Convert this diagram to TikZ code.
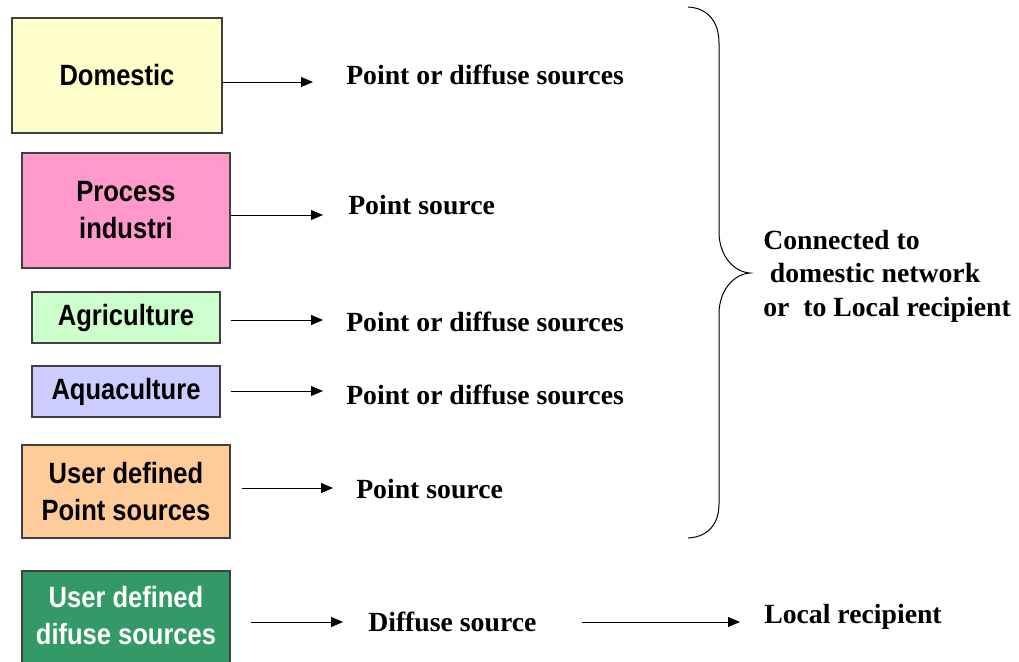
\documentclass[tikz,border=0pt]{standalone}
\usepackage{fontspec}
\setmainfont{Liberation Serif}
\newfontfamily\boxfont[FakeStretch=0.87]{Liberation Sans Bold}
\usetikzlibrary{arrows.meta}
\definecolor{cdom}{HTML}{FFFFCC}
\definecolor{cproc}{HTML}{FF99CC}
\definecolor{cagr}{HTML}{CCFFCC}
\definecolor{caqua}{HTML}{CCCCFF}
\definecolor{cudp}{HTML}{FFCC99}
\definecolor{cudd}{HTML}{339966}
\definecolor{boxline}{HTML}{404040}
\begin{document}
\begin{tikzpicture}[x=0.75pt,y=-0.75pt,
  srcbox/.style={draw=boxline, line width=0.9pt, inner sep=0pt, align=center,
    font=\boxfont\fontsize{22}{27.75}\selectfont},
  lbl/.style={anchor=base west, inner sep=0pt, font=\bfseries\fontsize{20.8}{24}\selectfont},
  arr/.style={line width=0.75pt, -{Triangle[length=9pt,width=7.5pt]}}]
\clip (0,0) rectangle (1019,661);
\fill[white] (0,0) rectangle (1019,661);

% source boxes
\node[srcbox, fill=cdom, minimum width=157.5pt, minimum height=86.25pt] (dom) at (117,75.5) {Domestic};
\node[srcbox, fill=cproc, minimum width=156pt, minimum height=86.25pt] (proc) at (126,210.5) {Process\\industri};
\node[srcbox, fill=cagr, minimum width=141pt, minimum height=38.25pt] (agr) at (126,317.5) {Agriculture};
\node[srcbox, fill=caqua, minimum width=141pt, minimum height=38.25pt] (aqua) at (126,391.5) {Aquaculture};
\node[srcbox, fill=cudp, minimum width=156pt, minimum height=69.75pt] (udp) at (126,491.5) {User defined\\Point sources};
\node[srcbox, fill=cudd, minimum width=156pt, minimum height=82.5pt] (udd) at (126,626) {};
\node[inner sep=0pt, align=center, text=white, font=\boxfont\fontsize{22}{27.75}\selectfont] (uddt) at (126,616) {User defined\\difuse sources};

% labels
\node[lbl] (l1) at (346,84) {Point or diffuse sources};
\node[lbl] (l2) at (348,214) {Point source};
\node[lbl] (l3) at (346,331) {Point or diffuse sources};
\node[lbl] (l4) at (346,404) {Point or diffuse sources};
\node[lbl] (l5) at (356,498) {Point source};
\node[lbl] (l6) at (368,631) {Diffuse source};
\node[lbl] (l7) at (764,623) {Local recipient};
\node[anchor=west, inner sep=0pt, align=left, font=\bfseries\fontsize{20.8}{25}\selectfont] (conn) at (763,276)
  {Connected to\\\hspace*{5pt}domestic network\\or\ \ to Local recipient};

% arrow end points
\coordinate (a1) at (313,82);
\coordinate (a2) at (323,215);
\coordinate (a3) at (323,320);
\coordinate (a4) at (323,391);
\coordinate (a5) at (333,488);
\coordinate (a6) at (343,622);
\coordinate (a7) at (740,622);

\draw[arr] (dom.east |- a1) -- (a1);
\draw[arr] (proc.east |- a2) -- (a2);
\draw[arr, shorten <=7.5pt] (agr.east |- a3) -- (a3);
\draw[arr, shorten <=7.5pt] (aqua.east |- a4) -- (a4);
\draw[arr, shorten <=8.25pt] (udp.east |- a5) -- (a5);
\draw[arr, shorten <=15pt] (udd.east |- a6) -- (a6);
\draw[arr, shorten <=33.75pt] (l6.east |- a7) -- (a7);

% brace
\draw[line width=0.75pt]
  (688,7) .. controls (708,8) and (719,22) .. (719,43)
  -- (719,232) .. controls (719,256) and (734,272) .. (750,273)
  .. controls (734,274) and (719,290) .. (719,314)
  -- (719,504) .. controls (719,524) and (708,537) .. (688,538);
\end{tikzpicture}
\end{document}
